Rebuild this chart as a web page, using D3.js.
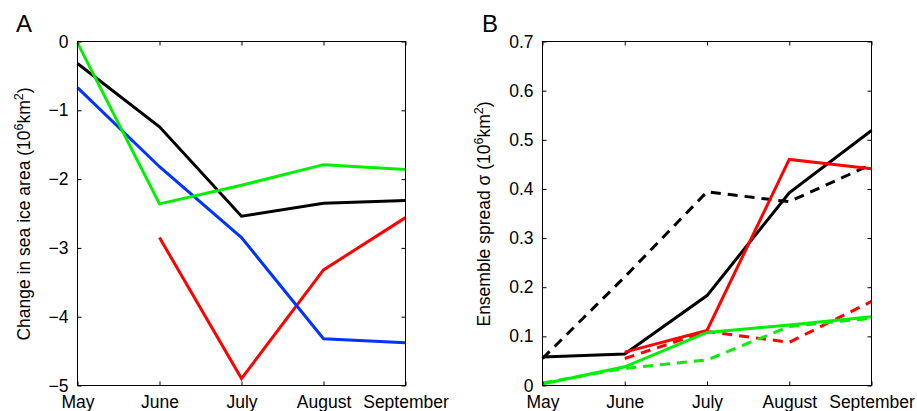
<!DOCTYPE html>
<html lang="en">
<head>
	<meta charset="utf-8">
	<title>Sea ice area change and ensemble spread</title>
	<style type="text/css">
		body {
			margin: 0;
			background: #fff;
			font-family: "Liberation Sans", Helvetica, Arial, sans-serif;
		}
	</style>
</head>
<body>
	<div id="content"></div>

	<script src="https://cdnjs.cloudflare.com/ajax/libs/d3/7.8.5/d3.min.js"></script>
	<script type="text/javascript">
		// DATA
		var months = ["May", "June", "July", "August", "September"];

		// panel A: change in sea ice area (10^6 km^2)
		var blackA = [-0.32, -1.24, -2.54, -2.35, -2.31];
		var greenA = [-0.02, -2.36, -2.09, -1.79, -1.86];
		var blueA = [-0.67, -1.82, -2.85, -4.32, -4.38];
		var redA = [null, -2.85, -4.90, -3.32, -2.56];
		var ticksA = [0, -1, -2, -3, -4, -5];

		// panel B: ensemble spread sigma (10^6 km^2)
		var blackSolidB = [0.058, 0.064, 0.183, 0.392, 0.519];
		var blackDashB = [0.055, 0.221, 0.394, 0.374, 0.450];
		var redSolidB = [null, 0.068, 0.112, 0.460, 0.441];
		var redDashB = [null, 0.055, 0.110, 0.088, 0.171];
		var greenSolidB = [0.003, 0.038, 0.108, 0.123, 0.140];
		var greenDashB = [0.005, 0.035, 0.052, 0.120, 0.137];
		var ticksB = [0, 0.1, 0.2, 0.3, 0.4, 0.5, 0.6, 0.7];

		var W = 917, H = 411;
		var FONT = "Liberation Sans, Helvetica, Arial, sans-serif";

		var svg = d3.select("#content").append("svg")
			.attr("width", W)
			.attr("height", H)
			.style("font-family", FONT);

		function drawPanel(opt) {
			var g = svg.append("g");

			var x = d3.scalePoint()
				.domain(months)
				.range([opt.left, opt.right]);

			var y = d3.scaleLinear()
				.domain(opt.domain)
				.range([opt.bottom, opt.top]);

			// lines
			var line = d3.line()
				.defined(function (d) { return d.v != null; })
				.x(function (d) { return x(d.m); })
				.y(function (d) { return y(d.v); });

			opt.series.forEach(function (s) {
				var pts = s.values.map(function (v, i) { return { m: months[i], v: v }; });
				g.append("path")
					.attr("d", line(pts))
					.attr("fill", "none")
					.attr("stroke", s.color)
					.attr("stroke-width", 3)
					.attr("stroke-dasharray", s.dash ? "10,7" : null)
					.attr("stroke-linejoin", "miter");
			});

			// axes: ticks inward on all four sides
			var tl = 4;
			var left = d3.axisLeft(y).tickValues(opt.ticks).tickSize(-tl).tickPadding(9)
				.tickFormat(opt.format);
			var right = d3.axisRight(y).tickValues(opt.ticks).tickSize(-tl).tickFormat("");
			var bottom = d3.axisBottom(x).tickSize(-tl).tickPadding(10);
			var top = d3.axisTop(x).tickSize(-tl).tickFormat("");

			[
				g.append("g").attr("transform", "translate(" + opt.left + ",0)").call(left),
				g.append("g").attr("transform", "translate(" + opt.right + ",0)").call(right),
				g.append("g").attr("transform", "translate(0," + opt.bottom + ")").call(bottom),
				g.append("g").attr("transform", "translate(0," + opt.top + ")").call(top)
			].forEach(function (a) {
				a.select(".domain").remove();
				a.selectAll("line").attr("stroke", "#000");
				a.selectAll("text")
					.attr("fill", "#000")
					.style("font-size", "17.5px")
					.style("font-family", FONT);
			});

			// frame
			g.append("rect")
				.attr("x", opt.left)
				.attr("y", opt.top)
				.attr("width", opt.right - opt.left)
				.attr("height", opt.bottom - opt.top)
				.attr("fill", "none")
				.attr("stroke", "#000")
				.attr("stroke-width", 1);

			// panel letter
			g.append("text")
				.attr("x", opt.letterX)
				.attr("y", 32)
				.style("font-size", "24px")
				.text(opt.letter);

			// axis title with superscripts
			var t = g.append("text")
				.attr("transform", "translate(" + opt.titleX + "," + opt.titleY + ") rotate(-90)")
				.attr("text-anchor", "middle")
				.style("font-size", "17.5px");
			t.append("tspan").text(opt.title + " (10");
			t.append("tspan").attr("dy", -7).style("font-size", "12.5px").text("6");
			t.append("tspan").attr("dy", 7).text("km");
			t.append("tspan").attr("dy", -7).style("font-size", "12.5px").text("2");
			t.append("tspan").attr("dy", 7).text(")");
		}

		drawPanel({
			left: 77.5, right: 405.5, top: 41.5, bottom: 385.5,
			domain: [-5, 0],
			ticks: ticksA,
			format: function (d) { return d < 0 ? "\u2212" + Math.abs(d) : d; },
			letter: "A", letterX: 16,
			title: "Change in sea ice area", titleX: 30, titleY: 214,
			series: [
				{ values: redA, color: "#ff0000" },
				{ values: blueA, color: "#0033ff" },
				{ values: blackA, color: "#000000" },
				{ values: greenA, color: "#00f000" }
			]
		});

		drawPanel({
			left: 542.5, right: 871.5, top: 41.5, bottom: 385.5,
			domain: [0, 0.7],
			ticks: ticksB,
			format: function (d) { return d === 0 ? "0" : d3.format(".1f")(d); },
			letter: "B", letterX: 482,
			title: "Ensemble spread \u03c3", titleX: 490, titleY: 214,
			series: [
				{ values: blackDashB, color: "#000000", dash: true },
				{ values: redDashB, color: "#ff0000", dash: true },
				{ values: greenDashB, color: "#00f000", dash: true },
				{ values: blackSolidB, color: "#000000" },
				{ values: redSolidB, color: "#ff0000" },
				{ values: greenSolidB, color: "#00f000" }
			]
		});
	</script>
</body>
</html>
